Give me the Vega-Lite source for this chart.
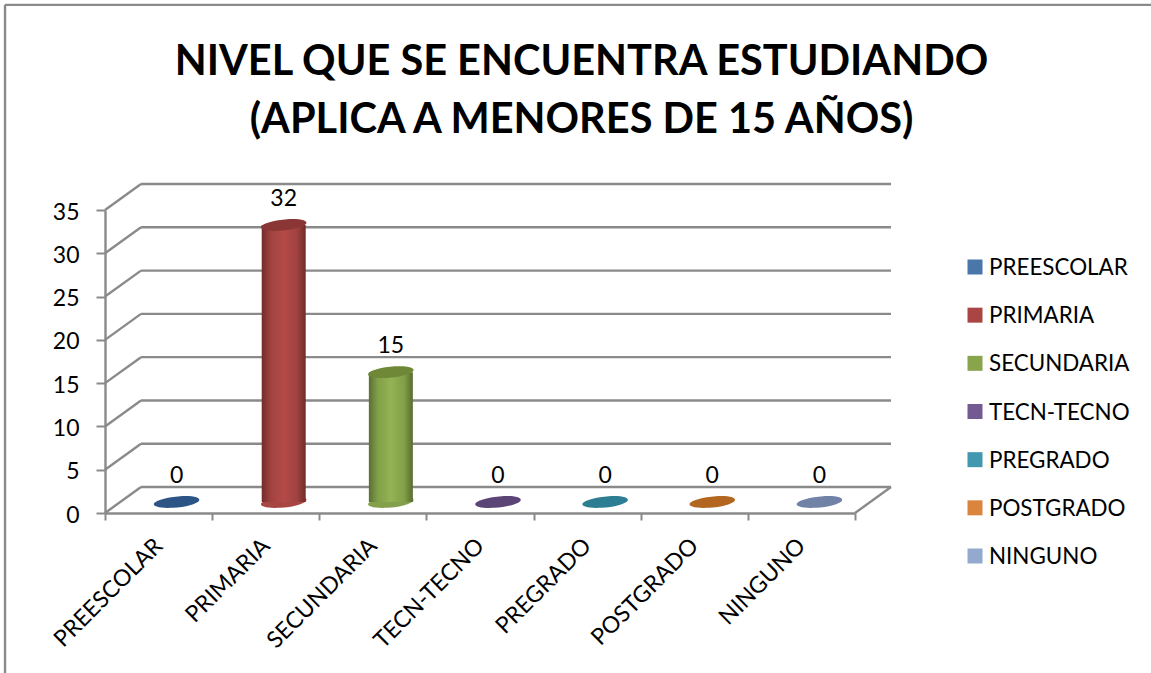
{
"$schema":"https://vega.github.io/schema/vega-lite/v6.json",
"width":1151,"height":673,"autosize":"none","padding":0,"background":"white",
"title":{"text":["NIVEL QUE SE ENCUENTRA ESTUDIANDO","(APLICA A MENORES DE 15 AÑOS)"],"font":"Lato","fontSize":41.5,"fontWeight":"bold","color":"#000000","anchor":"middle","frame":"group","orient":"top","dx":6,"dy":141,"offset":0,"lineHeight":58},
"datasets":{
"cats":[
{"cat":"PREESCOLAR","value":0},{"cat":"PRIMARIA","value":32},{"cat":"SECUNDARIA","value":15},{"cat":"TECN-TECNO","value":0},{"cat":"PREGRADO","value":0},{"cat":"POSTGRADO","value":0},{"cat":"NINGUNO","value":0}],
"frame":[
{"x":-0.933,"y":58.7,"x2":-0.933,"y2":-18.5},{"x":-0.933,"y":58.7,"x2":9.8,"y2":58.7},
{"x":0,"y":0,"x2":0.336,"y2":3},{"x":0,"y":5,"x2":0.336,"y2":8},{"x":0,"y":10,"x2":0.336,"y2":13},{"x":0,"y":15,"x2":0.336,"y2":18},{"x":0,"y":20,"x2":0.336,"y2":23},{"x":0,"y":25,"x2":0.336,"y2":28},{"x":0,"y":30,"x2":0.336,"y2":33},{"x":0,"y":35,"x2":0.336,"y2":38},
{"x":0.336,"y":3,"x2":7.336,"y2":3},{"x":0.336,"y":8,"x2":7.336,"y2":8},{"x":0.336,"y":13,"x2":7.336,"y2":13},{"x":0.336,"y":18,"x2":7.336,"y2":18},{"x":0.336,"y":23,"x2":7.336,"y2":23},{"x":0.336,"y":28,"x2":7.336,"y2":28},{"x":0.336,"y":33,"x2":7.336,"y2":33},{"x":0.336,"y":38,"x2":7.336,"y2":38},
{"x":7,"y":0,"x2":7.336,"y2":3}]
},
"layer":[
{"data":{"name":"frame"},"mark":{"type":"rule","color":"#8A8A8A","strokeWidth":2.4},
 "encoding":{"x":{"field":"x","type":"quantitative","scale":{"domain":[0,7],"range":[105,855],"nice":false,"zero":false},"axis":null},"x2":{"field":"x2"},"y":{"field":"y","type":"quantitative","scale":{"domain":[0,35],"range":[513,210],"nice":false,"zero":false},"axis":null},"y2":{"field":"y2"}}},
{"data":{"name":"cats"},
 "encoding":{"x":{"field":"cat","type":"nominal","scale":{"type":"band","domain":["PREESCOLAR","PRIMARIA","SECUNDARIA","TECN-TECNO","PREGRADO","POSTGRADO","NINGUNO"],"range":[105,855],"paddingInner":0,"paddingOuter":0},"title":null,"axis":{"tickBand":"extent","offset":-160,"domainColor":"#8A8A8A","domainWidth":2.4,"tickColor":"#8A8A8A","tickWidth":2,"tickSize":7,"labelAngle":-45,"labelAlign":"right","labelBaseline":"middle","labelFont":"Lato","labelFontSize":23,"labelColor":"#000000","labelPadding":22}},
 "y":{"field":"value","type":"quantitative","title":null,"scale":{"domain":[0,35],"range":[513,210],"nice":false,"zero":false},"axis":{"values":[0,5,10,15,20,25,30,35],"offset":-105,"grid":false,"domainColor":"#8A8A8A","domainWidth":2.4,"tickColor":"#8A8A8A","tickWidth":2,"tickSize":9,"labelFont":"Lato","labelFontSize":23,"labelColor":"#000000","labelPadding":17,"labelOffset":2}}},
 "layer":[
{"transform":[{"filter":"datum.value>0"}],
 "mark":{"type":"point","filled":true,"opacity":1,"size":2025,"xOffset":18,"yOffset":-11,"shape":"M-1,0.06 A1,0.24 -6 1 1 1,-0.06 A1,0.24 -6 1 1 -1,0.06 Z"},
 "encoding":{"y":{"datum":0,"type":"quantitative"},
  "fill":{"condition":{"test":"datum.cat==='PRIMARIA'","value":"#A84643"},"value":"#84A04C"}}},
{"transform":[{"filter":"datum.cat==='PRIMARIA'"}],
 "mark":{"type":"bar","size":44,"xOffset":18,"yOffset":-11,"color":{"gradient":"linear","x1":0,"y1":0,"x2":1,"y2":0,"stops":[{"offset":0,"color":"#742C2A"},{"offset":0.2,"color":"#A04240"},{"offset":0.5,"color":"#B54A47"},{"offset":0.8,"color":"#A04240"},{"offset":1,"color":"#722B29"}]}}},
{"transform":[{"filter":"datum.cat==='SECUNDARIA'"}],
 "mark":{"type":"bar","size":44,"xOffset":18,"yOffset":-11,"color":{"gradient":"linear","x1":0,"y1":0,"x2":1,"y2":0,"stops":[{"offset":0,"color":"#5A6F33"},{"offset":0.2,"color":"#81A048"},{"offset":0.5,"color":"#94B354"},{"offset":0.8,"color":"#81A048"},{"offset":1,"color":"#586C32"}]}}},
{"mark":{"type":"point","filled":true,"opacity":1,"size":2025,"xOffset":18,"yOffset":-11,"shape":"M-1,0.06 A1,0.24 -6 1 1 1,-0.06 A1,0.24 -6 1 1 -1,0.06 Z"},
 "encoding":{"fill":{"field":"cat","type":"nominal","legend":null,"scale":{"domain":["PREESCOLAR","PRIMARIA","SECUNDARIA","TECN-TECNO","PREGRADO","POSTGRADO","NINGUNO"],"range":["#2C5586","#8A3634","#6F8838","#5B4476","#2E7E93","#B3661F","#7082A6"]}}}},
{"mark":{"type":"text","font":"Lato","fontSize":23,"color":"#000000","xOffset":18,"yOffset":-37},
 "encoding":{"text":{"field":"value","type":"quantitative"}}}
 ]},
{"data":{"name":"cats"},
 "encoding":{"x":{"datum":8.12,"type":"quantitative","scale":{"domain":[0,7],"range":[105,855],"nice":false,"zero":false},"axis":null},
  "y":{"field":"cat","type":"nominal","scale":{"type":"point","domain":["PREESCOLAR","PRIMARIA","SECUNDARIA","TECN-TECNO","PREGRADO","POSTGRADO","NINGUNO"],"range":[267,556],"padding":0},"axis":null}},
 "layer":[
 {"mark":{"type":"square","size":225,"opacity":1},
  "encoding":{"color":{"field":"cat","type":"nominal","legend":null,"scale":{"domain":["PREESCOLAR","PRIMARIA","SECUNDARIA","TECN-TECNO","PREGRADO","POSTGRADO","NINGUNO"],"range":["#4A76A9","#A94644","#88A54C","#745A92","#4198AF","#DB843D","#94A9CE"]}}}},
 {"mark":{"type":"text","font":"Lato","fontSize":22.4,"color":"#000000","align":"left","xOffset":14,"yOffset":1},
  "encoding":{"text":{"field":"cat","type":"nominal"}}}
 ]}
],
"resolve":{"scale":{"x":"independent","y":"independent"}},
"config":{"view":{"stroke":null}}
}
